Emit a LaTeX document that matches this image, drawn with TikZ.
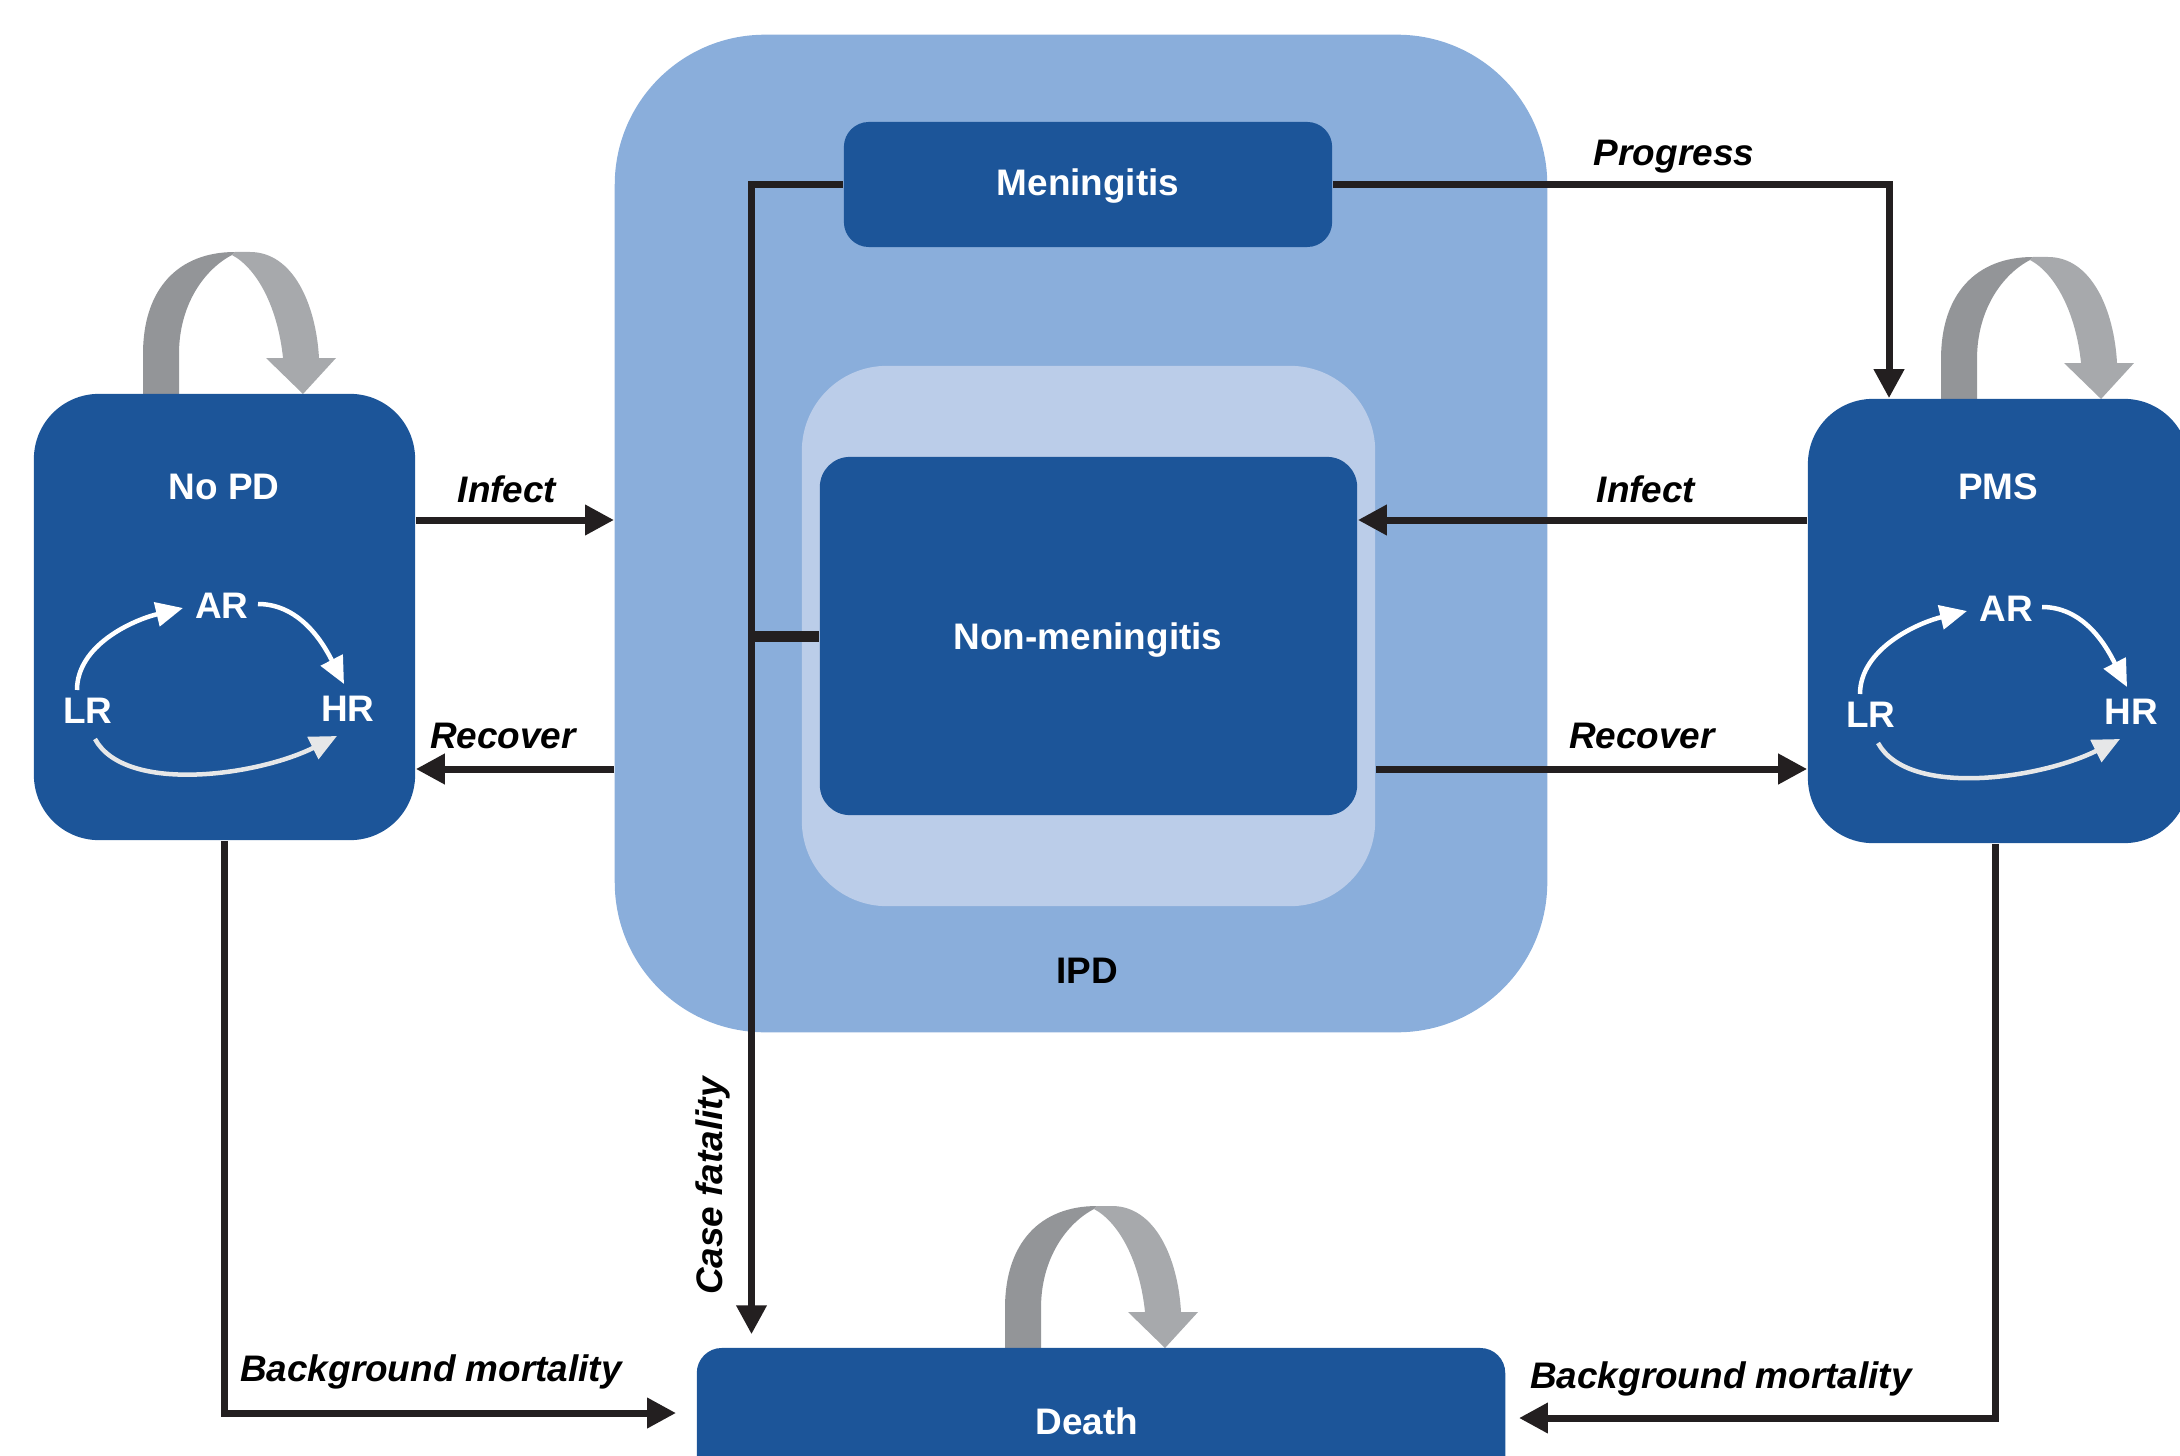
\documentclass[tikz,border=0pt]{standalone}
\usepackage{fontspec}
\setmainfont{Liberation Sans}
\usetikzlibrary{arrows.meta,calc}
\definecolor{dblue}{HTML}{1C5599}
\definecolor{ipdblue}{HTML}{8AAEDB}
\definecolor{lblue}{HTML}{BBCDE9}
\definecolor{ablack}{HTML}{231F20}
\definecolor{gdark}{HTML}{939598}
\definecolor{glight}{HTML}{A7A9AC}
\definecolor{offwhite}{HTML}{E6E7E8}
\tikzset{
  box/.style={fill=dblue, rounded corners=#1, inner sep=0pt},
  wtxt/.style={text=white, inner sep=0pt, font=\bfseries\fontsize{10.5}{12}\selectfont},
  btxt/.style={text=black, inner sep=0pt, font=\bfseries\fontsize{10.5}{12}\selectfont},
  lbl/.style={text=black, inner sep=0pt, font=\bfseries\itshape\fontsize{10.5}{12}\selectfont},
  conn/.style={draw=ablack, line width=0.07cm, -{Triangle[length=0.29cm,width=0.29cm]}},
  plainline/.style={draw=ablack, line width=0.07cm},
  cyc/.style={draw=#1, line width=0.045cm, -{Triangle[length=0.27cm,width=0.24cm]}},
  selfloop/.pic={
    \fill[gdark] (0,0) -- (0,-40) .. controls (0,-105) and (35,-142) .. (92,-142)
      -- (89,-139) .. controls (62,-125) and (36,-90) .. (36,-40) -- (36,0) -- cycle;
    \fill[glight] (89,-139) -- (92,-142) -- (107,-142) .. controls (150,-142) and (173,-90) .. (176,-36)
      -- (193,-36) -- (160,0) -- (123,-36) -- (140,-36) .. controls (135,-85) and (115,-125) .. (89,-139) -- cycle;
  }
}
\begin{document}
\begin{tikzpicture}[x=0.01cm,y=-0.01cm]
\useasboundingbox (0,0) rectangle (2180,1455);
\clip (0,0) rectangle (2180,1455);

% IPD container
\node[fill=ipdblue, rounded corners=1.5cm, minimum width=9.32cm, minimum height=9.97cm, inner sep=0pt] (ipd) at (1081,533.5) {};
\node[fill=lblue, rounded corners=0.85cm, minimum width=5.73cm, minimum height=5.40cm, inner sep=0pt] (light) at (1088.5,636) {};
\node[box=0.3cm, minimum width=5.37cm, minimum height=3.58cm] (nonmen) at (1088.5,636) {};
\node[box=0.25cm, minimum width=4.88cm, minimum height=1.25cm] (men) at (1088,184.5) {};
\node[wtxt] (nonmenT) at (1088,640) {Non-meningitis};
\node[wtxt] (menT) at (1088,186) {Meningitis};
\node[btxt] (ipdT) at (1087,971) {IPD};

% self loops
\pic at (143,394) {selfloop};
\pic at (1941,399) {selfloop};
\pic at (1005,1348) {selfloop};

% states
\node[box=0.65cm, minimum width=3.81cm, minimum height=4.46cm] (nopd) at (224.5,617) {};
\node[box=0.65cm, minimum width=3.81cm, minimum height=4.44cm] (pms) at (1998.5,621) {};
\node[box=0.25cm, minimum width=8.08cm, minimum height=1.44cm] (death) at (1101,1420) {};
\node[wtxt] (deathT) at (1087,1421) {Death};
\node[wtxt] (nopdT) at (224,487) {No PD};
\node[wtxt] (pmsT) at (1998,487) {PMS};

% risk cycles
\node[wtxt] (lr1) at (88,711) {LR};
\node[wtxt] (ar1) at (222,606) {AR};
\node[wtxt] (hr1) at (348,709) {HR};
\node[wtxt] (lr2) at (1871,715) {LR};
\node[wtxt] (ar2) at (2006,609) {AR};
\node[wtxt] (hr2) at (2131,712) {HR};
\foreach \l/\a/\h in {lr1/ar1/hr1, lr2/ar2/hr2}{
  \draw[cyc=white] ($(\l)+(-11,-21)$) .. controls +(0,-45) and +(-50,12) .. ($(\a)+(-39,2)$);
  \draw[cyc=white] ($(\a)+(36,-2)$) .. controls +(45,0) and +(-18,-35) .. ($(\h)+(-4,-25)$);
  \draw[cyc=offwhite] ($(\l)+(7,28)$) .. controls +(30,55) and +(-80,40) .. ($(\h)+(-11,27)$);
}

% connectors
\coordinate (yinf) at (0,520);
\coordinate (yrec) at (0,769);
\coordinate (xprog) at (1889,0);
\coordinate (xcf) at (751.5,0);
\coordinate (ybmL) at (0,1413);
\coordinate (ybmR) at (0,1418);
\coordinate (xbmR) at (1995,0);

\draw[conn] (nopd.east |- yinf) -- (ipd.west |- yinf);
\draw[conn] (ipd.west |- yrec) -- (nopd.east |- yrec);
\draw[conn] (pms.west |- yinf) -- (nonmen.east |- yinf);
\draw[conn] (light.east |- yrec) -- (pms.west |- yrec);
\draw[conn] (men.east) -| (xprog |- pms.north);
\draw[conn, shorten >=0.13cm] (men.west) -| (xcf |- death.north);
\draw[plainline, line width=0.11cm] (xcf |- nonmen.west) -- (nonmen.west);
\draw[conn, shorten >=0.2cm] (nopd.south) |- (death.west |- ybmL);
\draw[conn, shorten >=0.13cm] (xbmR |- pms.south) |- (death.east |- ybmR);

% labels
\node[lbl] (tInfL) at (507,489) {Infect};
\node[lbl] (tRecL) at (503,736) {Recover};
\node[lbl] (tInfR) at (1646,489) {Infect};
\node[lbl] (tRecR) at (1642,736) {Recover};
\node[lbl] (tProg) at (1674,157) {Progress};
\node[lbl] (tBmL) at (431,1372) {Background mortality};
\node[lbl] (tBmR) at (1721,1379) {Background mortality};
\node[lbl, rotate=90] (tCF) at (713,1186) {Case fatality};
\end{tikzpicture}
\end{document}
